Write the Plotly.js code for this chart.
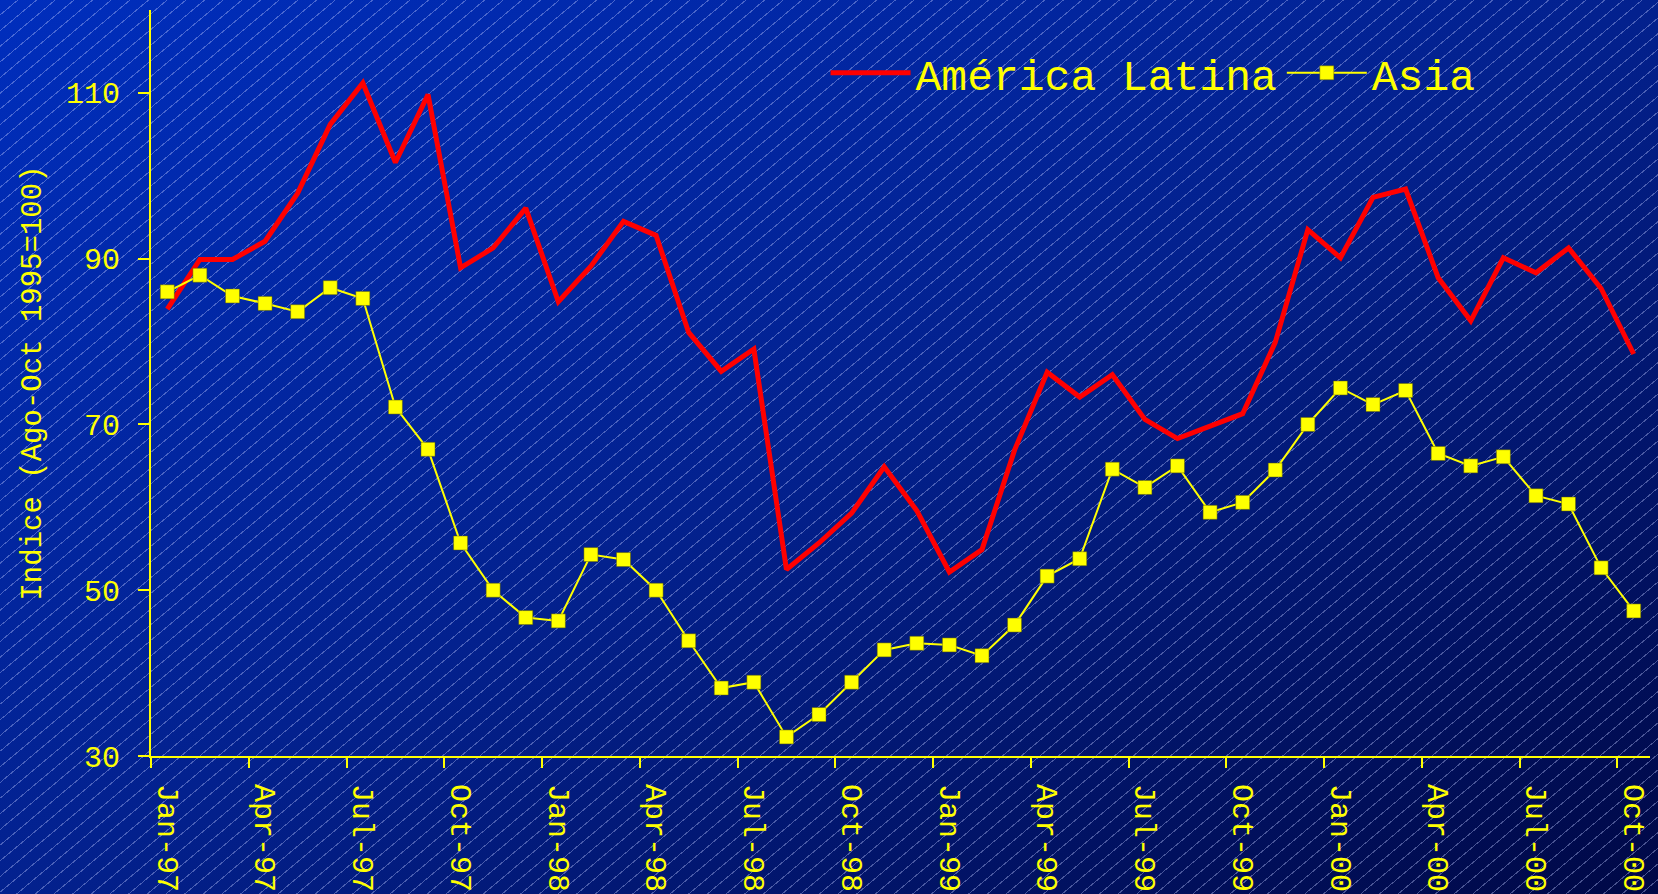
<!DOCTYPE html>
<html>
<head>
<meta charset="utf-8">
<script src="https://cdn.plot.ly/plotly-3.0.1.min.js"></script>
<style>
  html, body { margin: 0; padding: 0; width: 1658px; height: 894px; overflow: hidden; }
  #chart {
    width: 1658px; height: 894px;
    background:
      repeating-linear-gradient(140deg, rgba(0,0,0,0) 0px, rgba(0,0,0,0) 11px, rgba(190,200,255,0.38) 11px, rgba(190,200,255,0.38) 12px),
      linear-gradient(to bottom right, #002ebd 0%, #03218e 50%, #000846 100%);
  }
</style>
</head>
<body>
<div id="chart"></div>
<script>
// ---- data ----
const months = [
  "Jan-97","Feb-97","Mar-97","Apr-97","May-97","Jun-97","Jul-97","Aug-97","Sep-97","Oct-97","Nov-97","Dec-97",
  "Jan-98","Feb-98","Mar-98","Apr-98","May-98","Jun-98","Jul-98","Aug-98","Sep-98","Oct-98","Nov-98","Dec-98",
  "Jan-99","Feb-99","Mar-99","Apr-99","May-99","Jun-99","Jul-99","Aug-99","Sep-99","Oct-99","Nov-99","Dec-99",
  "Jan-00","Feb-00","Mar-00","Apr-00","May-00","Jun-00","Jul-00","Aug-00","Sep-00","Oct-00"
];
const americaLatina = [
  83.9, 89.9, 89.9, 92.1, 97.9, 106.2, 111.2, 101.6, 109.8, 88.9, 91.3, 96.1,
  84.8, 89.1, 94.5, 92.8, 81.1, 76.4, 79.1, 52.5, 55.7, 59.3, 64.9, 59.6,
  52.2, 54.9, 66.9, 76.3, 73.3, 76.0, 70.6, 68.3, 69.8, 71.3, 79.9, 93.5,
  90.1, 97.4, 98.4, 87.7, 82.5, 90.1, 88.3, 91.3, 86.4, 78.5
];
const asia = [
  86.0, 88.0, 85.5, 84.6, 83.6, 86.5, 85.2, 72.1, 67.0, 55.7, 50.0, 46.7,
  46.3, 54.3, 53.7, 50.0, 43.9, 38.2, 38.9, 32.3, 35.0, 38.9, 42.8, 43.6,
  43.4, 42.1, 45.8, 51.7, 53.8, 64.6, 62.4, 65.0, 59.4, 60.6, 64.5, 70.0,
  74.4, 72.4, 74.1, 66.5, 65.0, 66.1, 61.4, 60.4, 52.7, 47.5
];
const tickLabels = ["Jan-97","Apr-97","Jul-97","Oct-97","Jan-98","Apr-98","Jul-98","Oct-98",
                    "Jan-99","Apr-99","Jul-99","Oct-99","Jan-00","Apr-00","Jul-00","Oct-00"];
const yTicks = [30, 50, 70, 90, 110];
const seriesNames = ["América Latina", "Asia"];
const yTitle = "Indice (Ago-Oct 1995=100)";

// ---- styling ----
const YEL = "#ffff00";
const FONT = "Liberation Mono, DejaVu Sans Mono, monospace";

// boundary tick positions (half a category left of each labelled month)
const boundaryTicks = tickLabels.map(l => months.indexOf(l) - 0.5);

const traces = [
  {
    x: months, y: americaLatina, name: seriesNames[0], type: "scatter", mode: "lines",
    line: { color: "#ff0000", width: 5 }, xaxis: "x", yaxis: "y"
  },
  {
    x: months, y: asia, name: seriesNames[1], type: "scatter", mode: "lines+markers",
    line: { color: YEL, width: 2 },
    marker: { symbol: "square", size: 14, color: YEL, line: { color: "rgba(90,90,0,0.8)", width: 0.6 } },
    xaxis: "x", yaxis: "y"
  },
  {
    // carrier (no visible marks) so the boundary-tick axis is drawn
    x: [boundaryTicks[0]], y: [yTicks[0]], type: "scatter", mode: "markers",
    marker: { opacity: 0, size: 1 }, showlegend: false, hoverinfo: "skip",
    xaxis: "x2", yaxis: "y"
  }
];

const layout = {
  width: 1658, height: 894,
  margin: { l: 151, r: 8, t: 10, b: 138 },
  paper_bgcolor: "rgba(0,0,0,0)",
  plot_bgcolor: "rgba(0,0,0,0)",
  font: { family: FONT, color: YEL, size: 30 },
  showlegend: true,
  legend: {
    orientation: "h", x: 0.45, y: 0.962, xanchor: "left", yanchor: "top",
    bgcolor: "rgba(0,0,0,0)", font: { family: FONT, size: 43, color: YEL },
    itemwidth: 80
  },
  xaxis: {
    type: "category", categoryorder: "array", categoryarray: months,
    range: [-0.5, months.length - 0.5],
    tickmode: "array", tickvals: tickLabels, ticktext: tickLabels,
    ticks: "", tickangle: 90, ticklabelstandoff: 20,
    showline: true, linecolor: YEL, linewidth: 2,
    showgrid: false, zeroline: false,
    tickfont: { family: FONT, size: 30, color: YEL },
    fixedrange: true
  },
  xaxis2: {
    overlaying: "x", anchor: "y", side: "bottom", type: "linear",
    range: [-0.5, months.length - 0.5],
    tickmode: "array", tickvals: boundaryTicks,
    ticks: "outside", ticklen: 11, tickwidth: 2, tickcolor: YEL,
    showticklabels: false, showline: false, showgrid: false, zeroline: false
  },
  yaxis: {
    range: [30, 120],
    tickmode: "array", tickvals: yTicks,
    ticks: "outside", ticklen: 11, tickwidth: 2, tickcolor: YEL,
    ticklabelstandoff: 12,
    showline: true, linecolor: YEL, linewidth: 2,
    showgrid: false, zeroline: false,
    tickfont: { family: FONT, size: 30, color: YEL },
    title: { text: yTitle, standoff: 16, font: { family: FONT, size: 29, color: YEL } }
  }
};

Plotly.newPlot("chart", traces, layout, { displayModeBar: false, staticPlot: true });
</script>
</body>
</html>
